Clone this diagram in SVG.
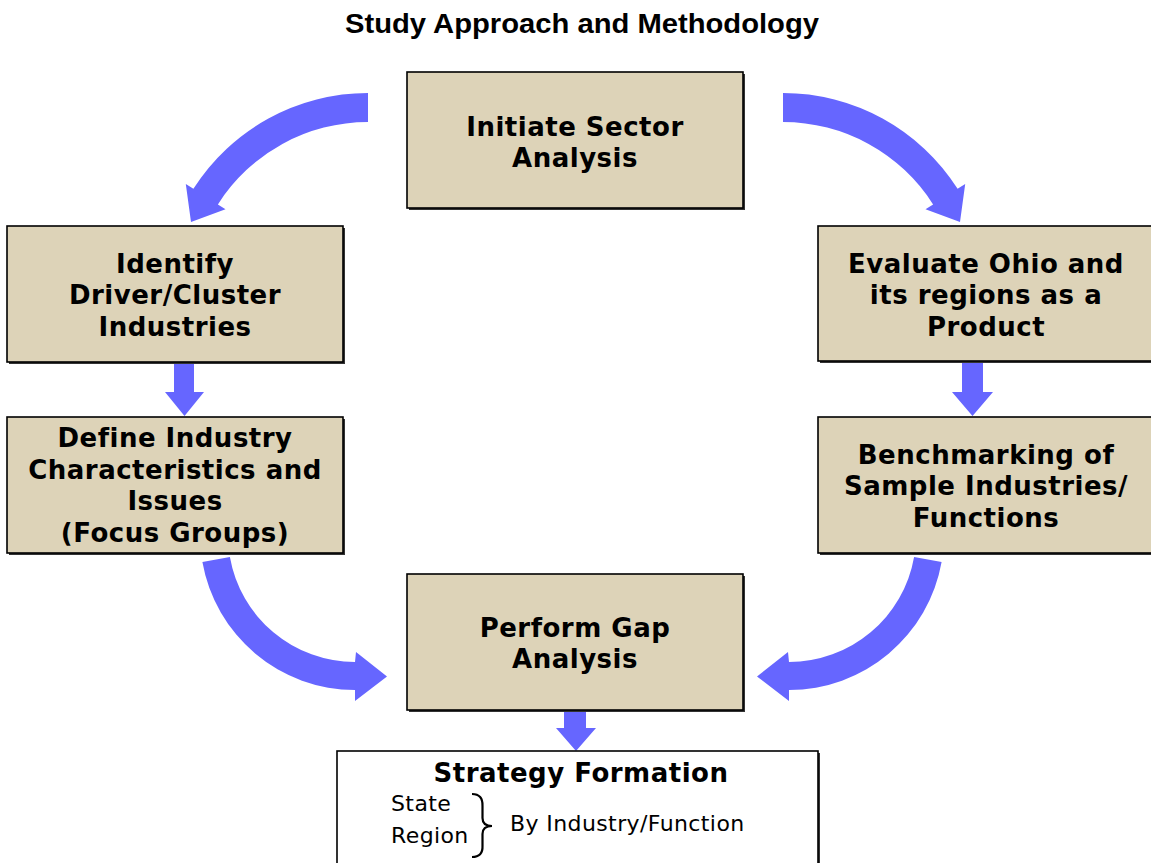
<svg xmlns="http://www.w3.org/2000/svg" width="1151" height="863" viewBox="0 0 1151 863">
<style>
.box{fill:#DDD3B8;stroke:#000;stroke-width:1.6}
.shadow{fill:#333}
.wbox{fill:#fff;stroke:#000;stroke-width:1.6}
.lbl{font-family:"DejaVu Sans",Verdana,sans-serif;font-weight:bold;font-size:26px;fill:#000;text-anchor:middle;letter-spacing:0.5px}
.sub{font-family:"DejaVu Sans",Verdana,sans-serif;font-size:22px;fill:#000;letter-spacing:0.4px}
.title{font-family:"Liberation Sans",Arial,sans-serif;font-weight:bold;font-size:27px;fill:#000;text-anchor:middle}
.arr{fill:#6666FF;stroke:none}
</style>
<rect width="1151" height="863" fill="#fff"/>
<text class="title" x="582" y="33" textLength="474" lengthAdjust="spacingAndGlyphs">Study Approach and Methodology</text>

<g id="connectors">
  <path class="arr" d="M368,93 A207,207 0 0 0 193.4,188.8 L185.8,183.9 L191,222 L225.5,209.2 L217.9,204.4 A178,178 0 0 1 368,122 Z"/>
  <path class="arr" d="M783,93 A207,207 0 0 1 957.6,188.8 L965.2,183.9 L960,222 L925.5,209.2 L933.1,204.4 A178,178 0 0 0 783,122 Z"/>
  <path class="arr" d="M202.4,561.9 A155,155 0 0 0 355,690 L355,701 L387,676.5 L356,652 L355,662 A127,127 0 0 1 229.9,557.1 Z"/>
  <path class="arr" d="M941.6,561.9 A155,155 0 0 1 789,690 L789,701 L757,676.5 L788,652 L789,662 A127,127 0 0 0 914.1,557.1 Z"/>
  <polygon class="arr" points="174,362 194,362 194,392 204,392 184.5,416 165,392 174,392"/>
  <polygon class="arr" points="962,362 983,362 983,392 993,392 972.5,416 952,392 962,392"/>
  <polygon class="arr" points="564,710 586,710 586,728 596,728 576,751 556,728 564,728"/>
</g>

<g id="node-initiate">
  <rect class="shadow" x="409" y="74" width="336" height="136"/>
  <rect class="box" x="407" y="72" width="336" height="136"/>
  <text class="lbl" x="575" y="136">Initiate Sector</text>
  <text class="lbl" x="575" y="167">Analysis</text>
</g>

<g id="node-identify">
  <rect class="shadow" x="9" y="228" width="336" height="136"/>
  <rect class="box" x="7" y="226" width="336" height="136"/>
  <text class="lbl" x="175" y="273">Identify</text>
  <text class="lbl" x="175" y="304">Driver/Cluster</text>
  <text class="lbl" x="175" y="336">Industries</text>
</g>

<g id="node-define">
  <rect class="shadow" x="9" y="419" width="336" height="136"/>
  <rect class="box" x="7" y="417" width="336" height="136"/>
  <text class="lbl" x="175" y="447">Define Industry</text>
  <text class="lbl" x="175" y="479">Characteristics and</text>
  <text class="lbl" x="175" y="510">Issues</text>
  <text class="lbl" x="175" y="542">(Focus Groups)</text>
</g>

<g id="node-evaluate">
  <rect class="shadow" x="820" y="228" width="340" height="135"/>
  <rect class="box" x="818" y="226" width="340" height="135"/>
  <text class="lbl" x="986" y="273">Evaluate Ohio and</text>
  <text class="lbl" x="986" y="304">its regions as a</text>
  <text class="lbl" x="986" y="336">Product</text>
</g>

<g id="node-benchmark">
  <rect class="shadow" x="820" y="419" width="340" height="136"/>
  <rect class="box" x="818" y="417" width="340" height="136"/>
  <text class="lbl" x="986" y="464">Benchmarking of</text>
  <text class="lbl" x="986" y="495">Sample Industries/</text>
  <text class="lbl" x="986" y="527">Functions</text>
</g>

<g id="node-gap">
  <rect class="shadow" x="409" y="576" width="336" height="136"/>
  <rect class="box" x="407" y="574" width="336" height="136"/>
  <text class="lbl" x="575" y="637">Perform Gap</text>
  <text class="lbl" x="575" y="668">Analysis</text>
</g>

<g id="node-strategy">
  <rect class="shadow" x="339" y="753" width="481" height="130"/>
  <rect class="wbox" x="337" y="751" width="481" height="130"/>
  <text class="lbl" x="581" y="782">Strategy Formation</text>
  <text class="sub" x="391" y="811">State</text>
  <text class="sub" x="391" y="843">Region</text>
  <path d="M472,794 Q483,794 482.5,806 L482.5,818 Q482.5,826 492,826 Q482.5,826 482.5,834 L482.5,846 Q483,857 472,857" fill="none" stroke="#000" stroke-width="2.2"/>
  <text class="sub" x="510" y="831">By Industry/Function</text>
</g>
</svg>
